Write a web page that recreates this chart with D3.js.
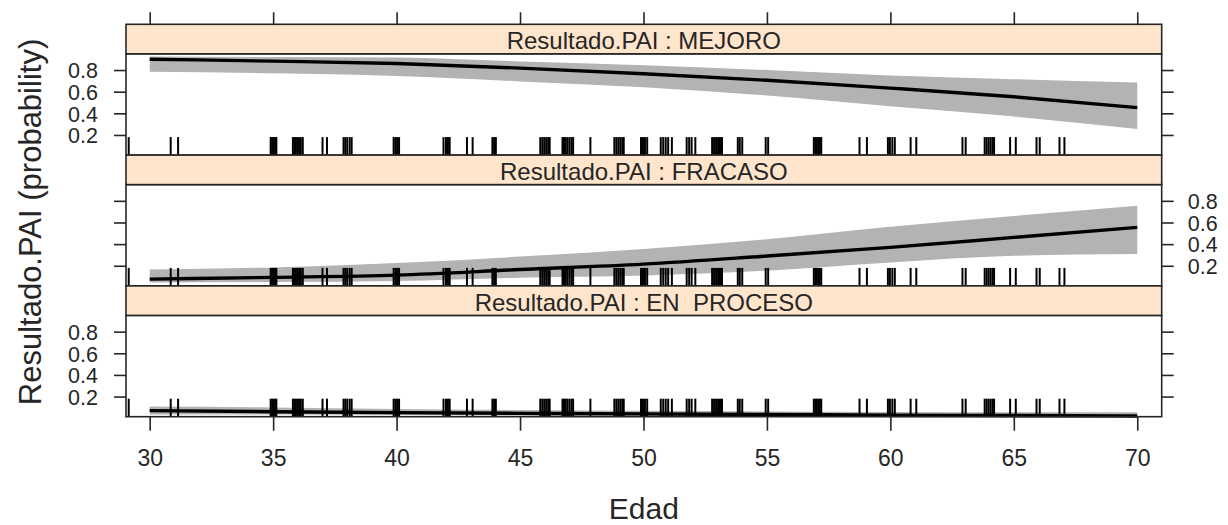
<!DOCTYPE html>
<html>
<head>
<meta charset="utf-8">
<script src="https://cdn.jsdelivr.net/npm/d3@7"></script>
<style>
  html, body { margin: 0; padding: 0; background: #ffffff; }
  svg { display: block; }
  text { font-family: "Liberation Sans", Arial, sans-serif; fill: #262626; }
</style>
</head>
<body>
<svg id="chart" width="1228" height="525"></svg>
<script>
// ---------------- data ----------------
const panelNames = ["Resultado.PAI : MEJORO", "Resultado.PAI : FRACASO", "Resultado.PAI : EN  PROCESO"];
const ages = [30, 35, 40, 45, 50, 55, 60, 65, 70];

const mejoroFit = [0.900, 0.882, 0.860, 0.818, 0.765, 0.705, 0.633, 0.553, 0.453];
const mejoroLo  = [0.785, 0.770, 0.745, 0.695, 0.640, 0.565, 0.465, 0.370, 0.255];
const mejoroHi  = [0.925, 0.920, 0.915, 0.880, 0.845, 0.800, 0.750, 0.715, 0.685];

const fracasoFit = [0.077, 0.093, 0.114, 0.165, 0.215, 0.290, 0.370, 0.462, 0.555];
const fracasoLo  = [0.045, 0.050, 0.060, 0.090, 0.110, 0.155, 0.231, 0.292, 0.308];
const fracasoHi  = [0.165, 0.185, 0.225, 0.285, 0.355, 0.445, 0.560, 0.660, 0.755];

const procesoFit = [0.070, 0.060, 0.052, 0.045, 0.040, 0.034, 0.029, 0.025, 0.021];
const procesoLo  = [0.035, 0.035, 0.030, 0.025, 0.020, 0.015, 0.010, 0.007, 0.005];
const procesoHi  = [0.108, 0.100, 0.085, 0.075, 0.068, 0.062, 0.058, 0.056, 0.055];

// observed ages (jittered rug)
const rugAges = [29.15, 30.85, 31.15,
  34.90, 34.96, 35.02, 35.08, 35.13,
  35.80, 35.86, 35.92, 35.98, 36.05, 36.12, 36.20,
  37.00, 37.18,
  37.85, 37.92, 38.00, 38.10, 38.18,
  39.88, 39.95, 40.02, 40.10,
  41.90, 42.00, 42.08, 42.15,
  42.85, 43.08,
  43.88, 43.95, 44.02,
  45.82, 45.90, 45.98, 46.06, 46.14, 46.20,
  46.72, 46.78, 46.85, 46.92, 47.00, 47.08, 47.15,
  47.85,
  48.82, 48.90, 48.98, 49.06, 49.14, 49.20,
  49.90, 49.98, 50.06, 50.15,
  50.70, 50.80, 50.90, 51.00, 51.15,
  51.75, 51.85, 51.95, 52.10,
  52.78, 52.86, 52.94, 53.02, 53.10, 53.18,
  53.82, 53.90, 54.00,
  54.95, 55.05,
  56.90, 56.96, 57.02, 57.08, 57.14, 57.20,
  58.75, 59.05,
  59.90, 59.98, 60.08, 60.18,
  60.82, 61.05,
  62.92, 63.05,
  63.82, 63.90, 63.98, 64.06, 64.14, 64.20,
  64.85, 65.08,
  65.92, 66.05,
  66.85, 67.05];

const xTicks = [30, 35, 40, 45, 50, 55, 60, 65, 70];
const yTicks = [0.2, 0.4, 0.6, 0.8];
const yTickLabels = ["0.2", "0.4", "0.6", "0.8"];
const xTitle = "Edad";
const yTitle = "Resultado.PAI (probability)";

const panels = [
  { name: panelNames[0], fit: mejoroFit, lo: mejoroLo, hi: mejoroHi },
  { name: panelNames[1], fit: fracasoFit, lo: fracasoLo, hi: fracasoHi },
  { name: panelNames[2], fit: procesoFit, lo: procesoLo, hi: procesoHi }
];

// ---------------- layout ----------------
const svg = d3.select("#chart");
const L = 126, R = 1161.7, T = 24.3;
const stripH = 29.5, panelH = 101.3;
const ink = "#262626";

const x = d3.scaleLinear().domain([29.04, 70.99]).range([L, R]);

panels.forEach((p, i) => {
  const sTop = T + i * (stripH + panelH);
  const pTop = sTop + stripH;
  const pBot = pTop + panelH;
  const y = d3.scaleLinear().domain([0.014, 0.95]).range([pBot, pTop]);

  const g = svg.append("g");

  // band
  const pts = ages.map((a, k) => ({ a, f: p.fit[k], lo: p.lo[k], hi: p.hi[k] }));
  g.append("path")
    .datum(pts)
    .attr("fill", "#b3b3b3")
    .attr("d", d3.area().x(d => x(d.a)).y0(d => y(d.lo)).y1(d => y(d.hi)).curve(d3.curveMonotoneX));

  // fit line
  g.append("path")
    .datum(pts)
    .attr("fill", "none")
    .attr("stroke", "#000")
    .attr("stroke-width", 3.4)
    .attr("d", d3.line().x(d => x(d.a)).y(d => y(d.f)).curve(d3.curveMonotoneX));

  // rug
  g.append("g").selectAll("line").data(rugAges).join("line")
    .attr("x1", d => x(d)).attr("x2", d => x(d))
    .attr("y1", pBot).attr("y2", pBot - 18)
    .attr("stroke", "#000").attr("stroke-width", 2);

  // panel border
  g.append("rect").attr("x", L).attr("y", pTop).attr("width", R - L).attr("height", panelH)
    .attr("fill", "none").attr("stroke", ink).attr("stroke-width", 1.6);

  // strip
  g.append("rect").attr("x", L).attr("y", sTop).attr("width", R - L).attr("height", stripH)
    .attr("fill", "#ffe5cc").attr("stroke", ink).attr("stroke-width", 1.6);
  g.append("text")
    .attr("x", (L + R) / 2).attr("y", sTop + stripH - 4.6)
    .attr("text-anchor", "middle")
    .style("white-space", "pre")
    .attr("font-size", 24)
    .text(p.name);

  // left axis
  const left = g.append("g").attr("transform", `translate(${L},0)`)
    .call(d3.axisLeft(y).tickValues(yTicks).tickSize(12).tickPadding(16)
      .tickFormat((d, k) => (i === 1 ? "" : yTickLabels[k])));
  // right axis
  const right = g.append("g").attr("transform", `translate(${R},0)`)
    .call(d3.axisRight(y).tickValues(yTicks).tickSize(12).tickPadding(14)
      .tickFormat((d, k) => (i === 1 ? yTickLabels[k] : "")));
  [left, right].forEach(ax => {
    ax.select(".domain").remove();
    ax.selectAll(".tick line").attr("stroke", ink).attr("stroke-width", 1.6);
    ax.selectAll(".tick text").attr("font-size", 21.5).attr("fill", ink)
      .attr("font-family", "'Liberation Sans', Arial, sans-serif")
      .attr("dy", "0.36em");
  });
});

// top axis (ticks only)
const topAx = svg.append("g").attr("transform", `translate(0,${T})`)
  .call(d3.axisTop(x).tickValues(xTicks).tickSize(12).tickFormat(""));
topAx.select(".domain").remove();
topAx.selectAll(".tick line").attr("stroke", ink).attr("stroke-width", 1.6);

// bottom axis
const yBottom = T + 3 * (stripH + panelH);
const botAx = svg.append("g").attr("transform", `translate(0,${yBottom})`)
  .call(d3.axisBottom(x).tickValues(xTicks).tickSize(14).tickPadding(19).tickFormat(d3.format("d")));
botAx.select(".domain").remove();
botAx.selectAll(".tick line").attr("stroke", ink).attr("stroke-width", 1.6);
botAx.selectAll(".tick text").attr("font-size", 23).attr("fill", ink)
  .attr("font-family", "'Liberation Sans', Arial, sans-serif");

// titles
svg.append("text")
  .attr("x", (L + R) / 2).attr("y", 519)
  .attr("text-anchor", "middle").attr("font-size", 30)
  .text(xTitle);

svg.append("text")
  .attr("transform", `translate(41,222) rotate(-90)`)
  .attr("text-anchor", "middle").attr("font-size", 31)
  .text(yTitle);
</script>
</body>
</html>
